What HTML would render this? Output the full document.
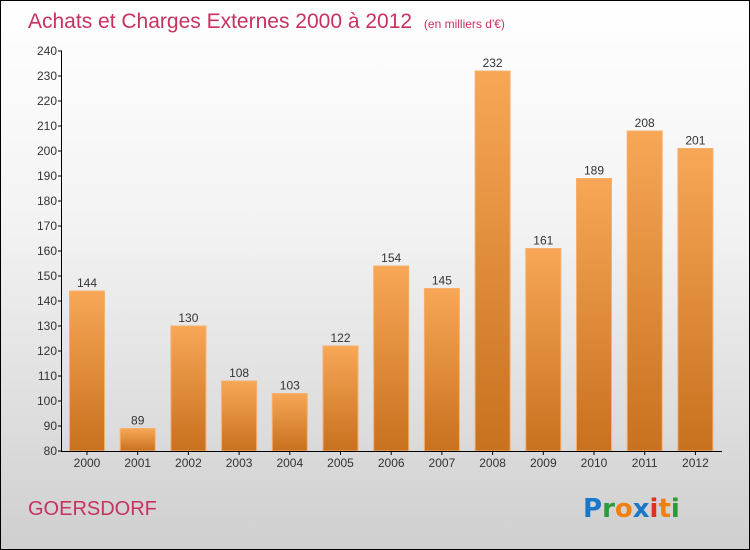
<!DOCTYPE html>
<html><head><meta charset="utf-8"><style>
body{margin:0;}
#c{position:relative;width:748px;height:548px;border:1px solid #000;background:linear-gradient(#ffffff,#f3f3f3 40%,#cfcfcf);font-family:"Liberation Sans",sans-serif;overflow:hidden}
svg{position:absolute;left:0;top:0}
</style></head><body>
<div id="c">
<svg id="s" width="748" height="548">
<defs><linearGradient id="g" x1="0" y1="0" x2="0" y2="1"><stop offset="0" stop-color="#f7a756"/><stop offset="1" stop-color="#c8711f"/></linearGradient></defs>
<text x="27" y="27" font-size="21" fill="#c8325f">Achats et Charges Externes 2000 à 2012 <tspan font-size="12" dx="6">(en milliers d'€)</tspan></text>
<text x="27" y="514" font-size="20" fill="#c8325f">GOERSDORF</text>
<g font-size="26" font-weight="bold" font-family="'DejaVu Sans',sans-serif">
<text x="582" y="516"><tspan fill="#1a78c8">P</tspan><tspan fill="#2a9a3a">r</tspan><tspan fill="#f08010">o</tspan><tspan fill="#1a78c8">x</tspan><tspan fill="#e03020">i</tspan><tspan fill="#f08010">t</tspan><tspan fill="#2a9a3a">i</tspan></text></g>
<g id="bars"></g><g id="axes"></g>
</svg></div>
<script>
const categories=["2000","2001","2002","2003","2004","2005","2006","2007","2008","2009","2010","2011","2012"];
const values=[144,89,130,108,103,122,154,145,232,161,189,208,201];
const yTicks=[80,90,100,110,120,130,140,150,160,170,180,190,200,210,220,230,240];
const NS="http://www.w3.org/2000/svg";
const y=v=>450-(v-80)*2.5;
const x=i=>86+i*50.7;
const bars=document.getElementById('bars'),axes=document.getElementById('axes');
function mk(t,a,p){const e=document.createElementNS(NS,t);for(const k in a)e.setAttribute(k,a[k]);p.appendChild(e);return e;}
values.forEach((v,i)=>{
 const r=mk('rect',{x:x(i)-17.5,y:y(v),width:35,height:450-y(v),fill:'url(#g)',stroke:'#f5b070','stroke-width':1},bars);
 
 
 const t=mk('text',{x:x(i),y:y(v)-4,'text-anchor':'middle','font-size':12,fill:'#333'},bars);
 t.textContent=v;
 
 
 const c=mk('text',{x:x(i),y:466,'text-anchor':'middle','font-size':12,fill:'#333'},axes);
 c.textContent=categories[i];
 
 
 mk('line',{x1:x(i),x2:x(i),y1:450,y2:454,stroke:'#000'},axes);
});
yTicks.forEach(v=>{
 mk('line',{x1:57,x2:61,y1:y(v),y2:y(v),stroke:'#000'},axes);
 const t=mk('text',{x:56,y:y(v)+4,'text-anchor':'end','font-size':12,fill:'#333'},axes);
 t.textContent=v;
 
 
});
const ya=mk('line',{x1:60.5,x2:60.5,y1:50,y2:450,stroke:'#000'},axes);


const xa=mk('line',{x1:60,x2:721,y1:450.5,y2:450.5,stroke:'#000'},axes);


</script>
</body></html>
